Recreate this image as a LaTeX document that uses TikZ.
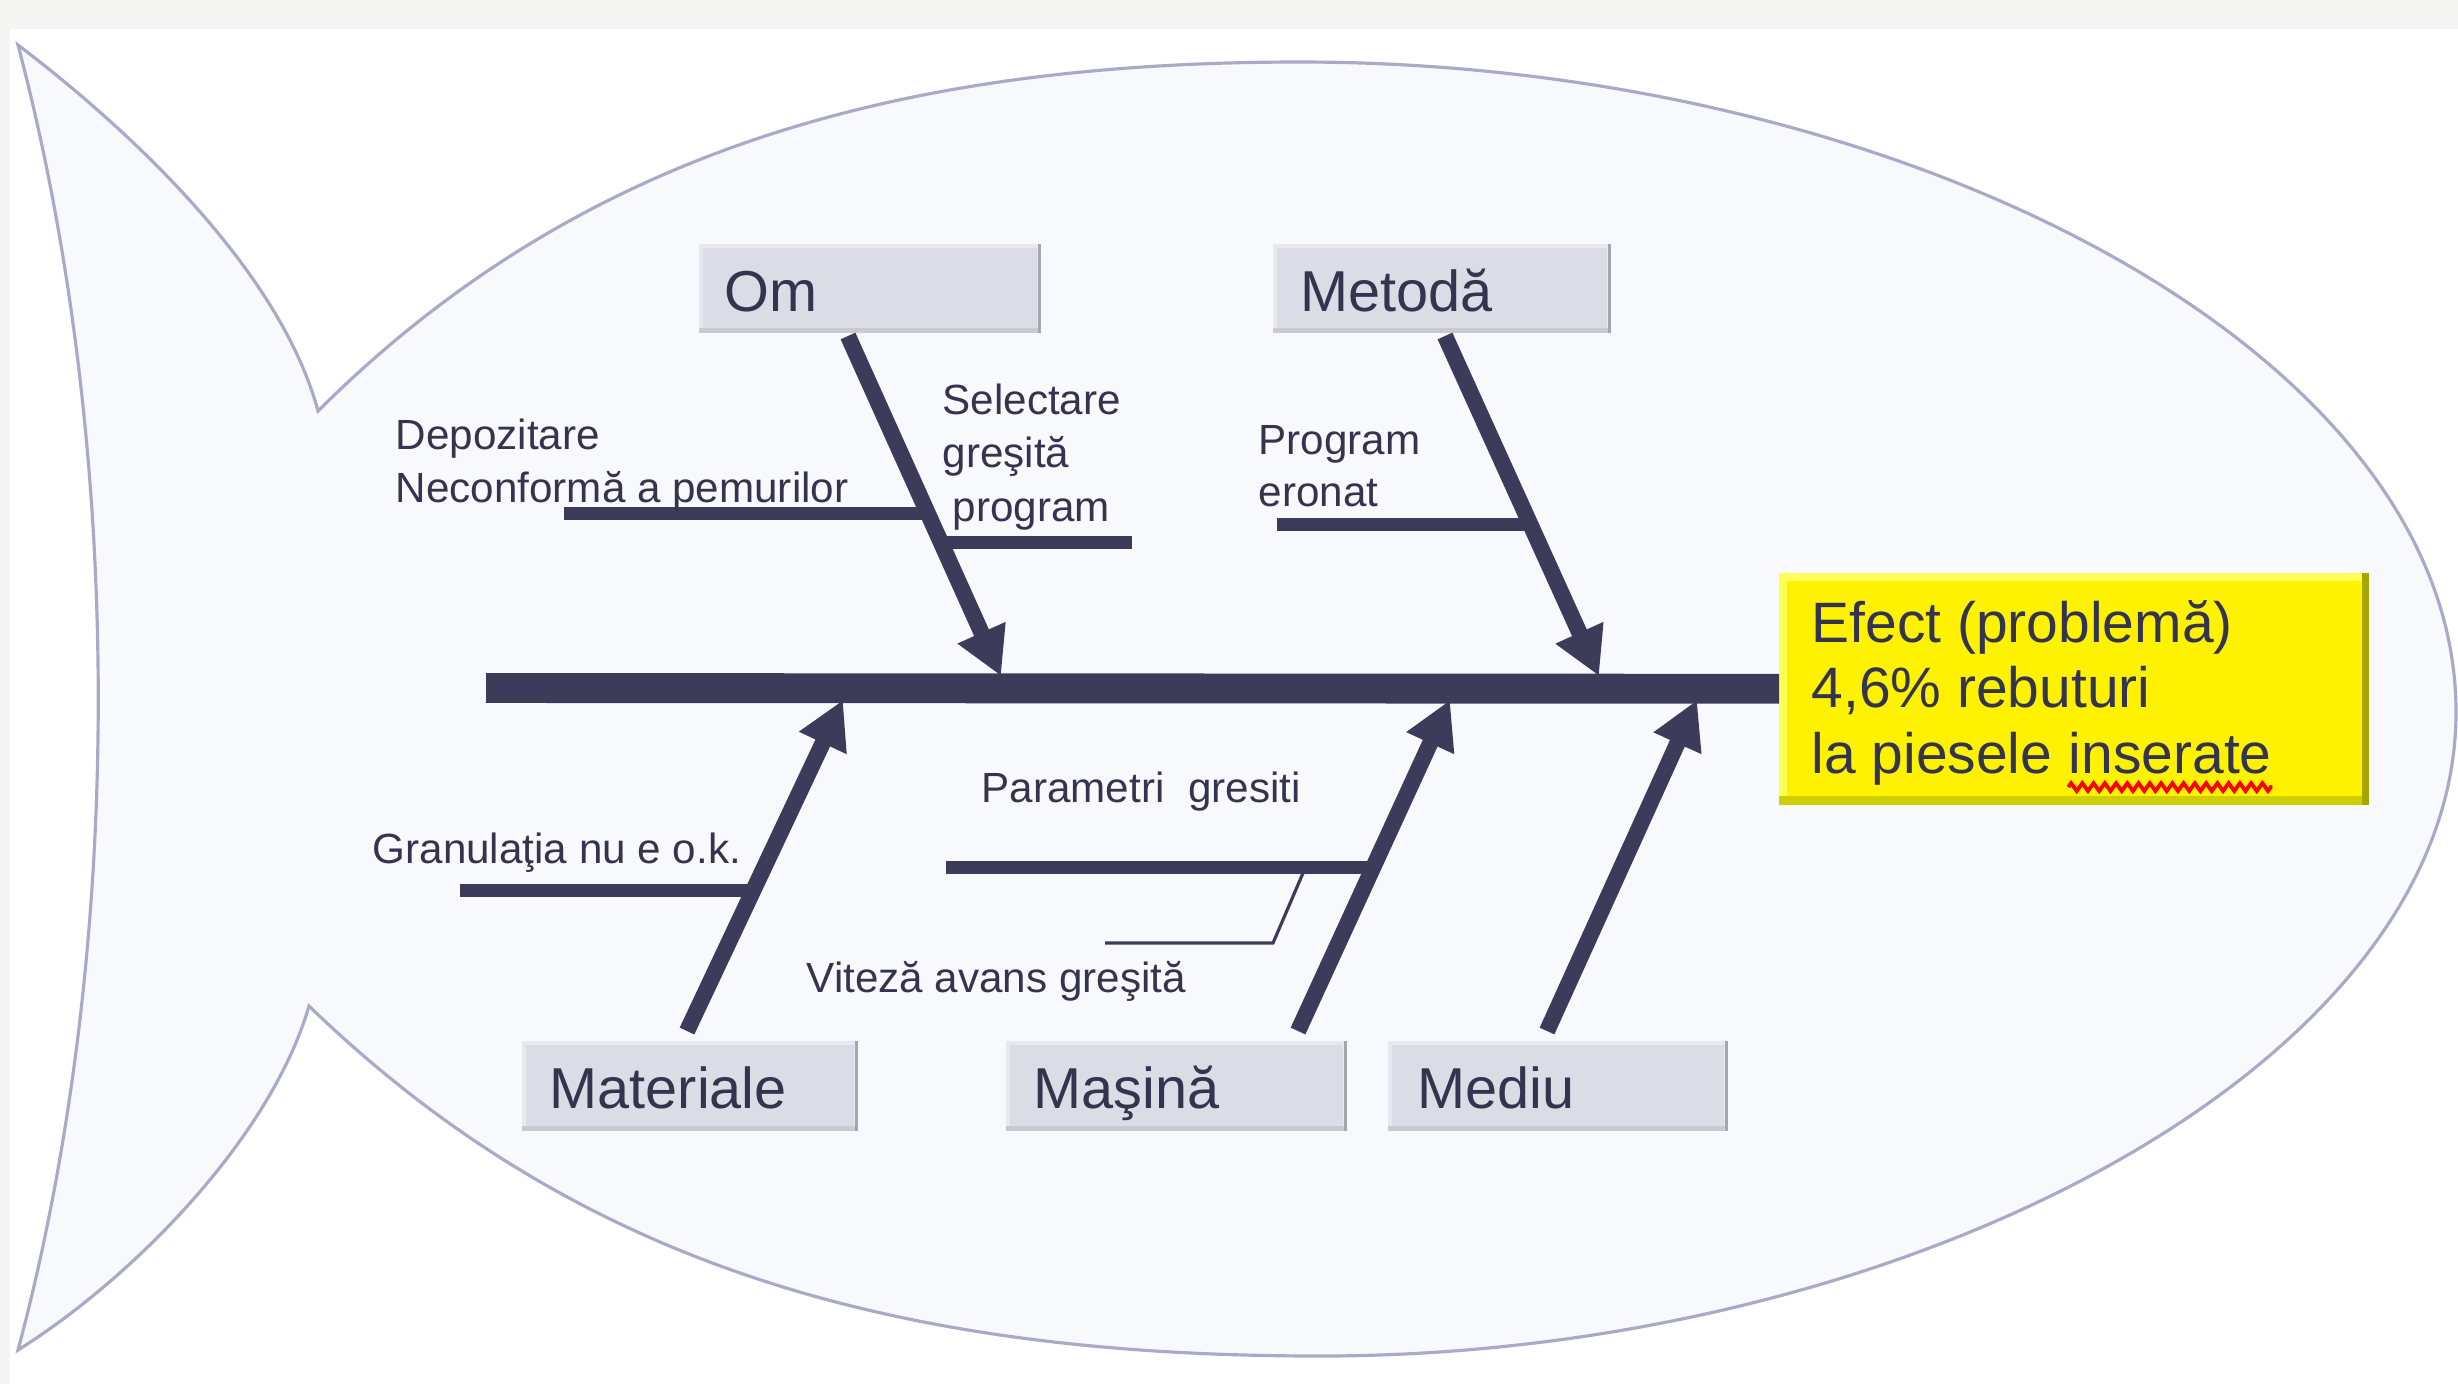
\documentclass[tikz,border=0pt]{standalone}
\usepackage{fontspec}
\setmainfont{Liberation Sans}
\usetikzlibrary{arrows.meta,calc,decorations.pathmorphing}
\definecolor{ink}{HTML}{3D3B5A}
\definecolor{txt}{HTML}{35344F}
\definecolor{fishfill}{HTML}{F8F9FD}
\definecolor{fishline}{HTML}{A9A9C8}
\definecolor{boxfill}{HTML}{DCDCE6}
\definecolor{boxlight}{HTML}{E8E8EE}
\definecolor{boxbot}{HTML}{C9C9D2}
\definecolor{boxright}{HTML}{A6A6AE}
\definecolor{efflight}{HTML}{FFFF55}
\definecolor{effbot}{HTML}{CECE00}
\definecolor{effright}{HTML}{A5A500}
\definecolor{pagegray}{HTML}{F5F5F3}
\begin{document}
\begin{tikzpicture}[x=0.01cm,y=-0.01cm,
  catbox/.style={rectangle, fill=boxfill, draw=boxlight, line width=1.2pt, inner sep=0pt, anchor=north west},
  effbox/.style={rectangle, fill=yellow, inner sep=0pt, anchor=north west},
  cattext/.style={font=\fontsize{16.4}{19}\selectfont, text=txt, inner sep=0pt, anchor=base west},
  efftext/.style={font=\fontsize{16.2}{19}\selectfont, text=txt, inner sep=0pt, anchor=base west},
  lbl/.style={font=\fontsize{12}{15}\selectfont, text=txt, inner sep=0pt, anchor=base west},
  arr/.style={draw=ink, line width=4.6pt, -{Triangle[length=13.5pt,width=14pt]}},
  spine/.style={draw=ink, line width=8.5pt},
  branch/.style={draw=ink, line width=3.7pt},
  thinbranch/.style={draw=ink, line width=0.9pt},
  squig/.style={draw=red, line width=1.1pt, decorate, decoration={zigzag, segment length=3.2pt, amplitude=1.1pt}}
]
\useasboundingbox (0,0) rectangle (2458,1384);
\fill[pagegray] (0,0) rectangle (2458,1384);
\fill[white] (10,29) rectangle (2458,1384);

% fish outline
\filldraw[fill=fishfill, draw=fishline, line width=0.9pt, line join=miter]
 (18,45) .. controls (130,130) and (280,270) .. (318,411)
 .. controls (580,150) and (900,62) .. (1300,62)
 .. controls (1900,62) and (2456,350) .. (2456,712)
 .. controls (2456,1068) and (1900,1356) .. (1320,1356)
 .. controls (900,1356) and (580,1268) .. (309,1006)
 .. controls (270,1140) and (130,1280) .. (18,1350)
 .. controls (125,950) and (125,450) .. cycle;

% category boxes
\node[catbox, minimum width=3.38cm, minimum height=0.85cm] (om)  at (699,244) {};
\node[catbox, minimum width=3.34cm, minimum height=0.85cm] (met) at (1273,244) {};
\node[catbox, minimum width=3.32cm, minimum height=0.86cm] (mat) at (522,1041) {};
\node[catbox, minimum width=3.37cm, minimum height=0.86cm] (mas) at (1006,1041) {};
\node[catbox, minimum width=3.36cm, minimum height=0.86cm] (med) at (1388,1041) {};
\foreach \n in {om,met,mat,mas,med}{
  \draw[boxbot, line width=1.4pt] ([yshift=0.7pt]\n.south west) -- ([yshift=0.7pt]\n.south east);
  \draw[boxright, line width=1.1pt] ([xshift=-0.55pt]\n.north east) -- ([xshift=-0.55pt]\n.south east);
}
\node[cattext] (omT)  at (724,311)  {Om};
\node[cattext] (metT) at (1300,311) {Metodă};
\node[cattext] (matT) at (549,1108) {Materiale};
\node[cattext] (masT) at (1033,1108) {Maşină};
\node[cattext] (medT) at (1417,1108) {Mediu};

% effect box
\node[effbox, minimum width=5.88cm, minimum height=2.30cm] (effect) at (1779,573) {};
\draw[efflight, line width=2.4pt] ([xshift=1.2pt]effect.south west) -- ([xshift=1.2pt,yshift=-1.2pt]effect.north west) -- ([yshift=-1.2pt]effect.north east);
\draw[effbot, line width=2.4pt] ([yshift=1.2pt]effect.south west) -- ([yshift=1.2pt]effect.south east);
\draw[effright, line width=2pt] ([xshift=-1pt]effect.south east) -- ([xshift=-1pt]effect.north east);
\node[efftext] (e1) at (1811,642) {Efect (problemă)};
\node[efftext] (e2) at (1811,707) {4,6\% rebuturi};
\node[efftext] (e3) at (1811,773) {la piesele};
\node[efftext] (e4) at ([xshift=4.3pt]e3.base east) {inserate};
\draw[squig] ([yshift=-4pt]e4.base west) -- ([yshift=-4pt]e4.base east);

% arrow end points
\coordinate (omF)  at (848,336);  \coordinate (omP)  at (1001,676);
\coordinate (metF) at (1445,336); \coordinate (metP) at (1599,676);
\coordinate (matF) at (687,1031); \coordinate (matP) at (843,700);
\coordinate (masF) at (1298,1031);\coordinate (masP) at (1450,700);
\coordinate (medF) at (1547,1031);\coordinate (medP) at (1697,700);

\draw[arr] (omF) -- (omP);
\draw[arr] (metF) -- (metP);
\draw[arr] (matF) -- (matP);
\draw[arr] (masF) -- (masP);
\draw[arr] (medF) -- (medP);

% spine
\coordinate (spineL) at (486,688);
\draw[spine] (spineL) -- (effect.west);

% sub-branches
\coordinate (depL) at (564,513); \coordinate (depR) at ($(omF)!0.5206!(omP)$);
\draw[branch] (depL) -- (depL -| depR);
\coordinate (selR) at (1132,542); \coordinate (selL) at ($(omF)!0.606!(omP)$);
\draw[branch] (selL |- selR) -- (selR);
\coordinate (prgL) at (1277,524); \coordinate (prgR) at ($(metF)!0.553!(metP)$);
\draw[branch] (prgL) -- (prgL -| prgR);
\coordinate (graL) at (460,890); \coordinate (graR) at ($(matF)!0.426!(matP)$);
\draw[branch] (graL) -- (graL -| graR);
\coordinate (parL) at (946,867); \coordinate (parR) at ($(masF)!0.4955!(masP)$);
\draw[branch] (parL) -- (parL -| parR);
\coordinate (vitL) at (1105,943); \coordinate (vitK) at (1273,943); \coordinate (vitT) at (1303,873);
\draw[thinbranch] (vitL) -- (vitK) -- (vitT);

% labels
\node[lbl] (dep1) at (395,449) {Depozitare};
\node[lbl] (dep2) at (395,502) {Neconformă a pemurilor};
\node[lbl] (sel1) at (942,414) {Selectare};
\node[lbl] (sel2) at (942,467) {greşită};
\node[lbl] (sel3) at (952,521) {program};
\node[lbl] (prg1) at (1258,454) {Program};
\node[lbl] (prg2) at (1258,506) {eronat};
\node[lbl] (gra)  at (372,863) {Granulaţia nu e o.k.};
\node[lbl] (par)  at (981,802) {Parametri\ \ gresiti};
\node[lbl] (vit)  at (806,992) {Viteză avans greşită};
\end{tikzpicture}
\end{document}
